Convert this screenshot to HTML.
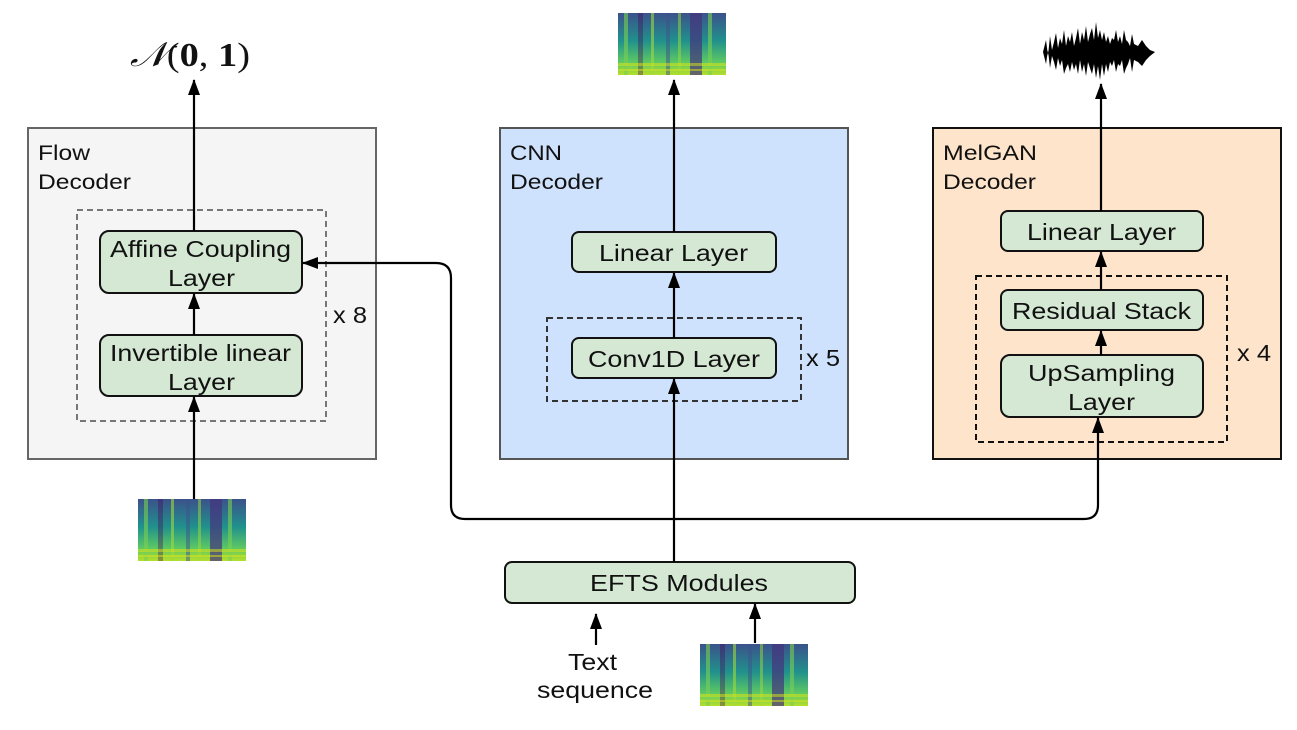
<!DOCTYPE html>
<html><head><meta charset="utf-8"><style>
html,body{margin:0;padding:0;background:#fff;}
svg{display:block;font-family:"Liberation Sans",sans-serif;}
</style></head><body>
<svg width="1297" height="730" viewBox="0 0 1297 730" xmlns="http://www.w3.org/2000/svg">
<defs>
<marker id="a" markerWidth="16" markerHeight="12" refX="15" refY="6" orient="auto" markerUnits="userSpaceOnUse">
<path d="M0,0 L16,6 L0,12 z" fill="#000"/></marker>
<linearGradient id="sg" x1="0" y1="0" x2="0" y2="1">
<stop offset="0" stop-color="#3b528b"/><stop offset="0.45" stop-color="#21918c"/><stop offset="0.8" stop-color="#5ec962"/><stop offset="1" stop-color="#b5de2b"/></linearGradient>
<g id="spec">
<rect width="108" height="62" fill="url(#sg)"/>
<rect x="6" y="0" width="4" height="62" fill="#7ad151" opacity=".6"/>
<rect x="20" y="0" width="5" height="62" fill="#440154" opacity=".35"/>
<rect x="33" y="0" width="3" height="62" fill="#a0da39" opacity=".6"/>
<rect x="48" y="0" width="4" height="62" fill="#3b528b" opacity=".5"/>
<rect x="60" y="0" width="3" height="62" fill="#a0da39" opacity=".5"/>
<rect x="72" y="0" width="12" height="62" fill="#46327e" opacity=".7"/>
<rect x="90" y="0" width="4" height="62" fill="#7ad151" opacity=".6"/>
<rect x="0" y="50" width="108" height="3" fill="#dde318" opacity=".5"/>
<rect x="0" y="56" width="108" height="2" fill="#dde318" opacity=".5"/>
</g>
</defs>
<rect x="28" y="128" width="348" height="331" fill="#f5f5f5" stroke="#666" stroke-width="2"/>
<rect x="500" y="128" width="348" height="331" fill="#cfe2fd" stroke="#555" stroke-width="2"/>
<rect x="933" y="128" width="348" height="331" fill="#fde4cb" stroke="#111" stroke-width="2"/>
<g font-size="21" fill="#111">
<text x="38" y="160" textLength="52" lengthAdjust="spacingAndGlyphs">Flow</text><text x="38" y="189" textLength="93" lengthAdjust="spacingAndGlyphs">Decoder</text>
<text x="510" y="160" textLength="52" lengthAdjust="spacingAndGlyphs">CNN</text><text x="510" y="189" textLength="93" lengthAdjust="spacingAndGlyphs">Decoder</text>
<text x="943" y="160" textLength="94" lengthAdjust="spacingAndGlyphs">MelGAN</text><text x="943" y="189" textLength="93" lengthAdjust="spacingAndGlyphs">Decoder</text>
</g>
<rect x="77" y="210" width="249" height="211" fill="none" stroke="#777" stroke-width="2" stroke-dasharray="6,4"/>
<rect x="547" y="318" width="254" height="83" fill="none" stroke="#333" stroke-width="2" stroke-dasharray="6,4"/>
<rect x="976" y="276" width="251" height="166" fill="none" stroke="#111" stroke-width="2" stroke-dasharray="6,4"/>
<g fill="#d5e8d4" stroke="#111" stroke-width="2">
<rect x="100" y="231" width="202" height="62" rx="9"/>
<rect x="100" y="335" width="202" height="61" rx="9"/>
<rect x="572" y="232" width="204" height="40" rx="7"/>
<rect x="572" y="338" width="204" height="40" rx="7"/>
<rect x="1001" y="211" width="202" height="40" rx="7"/>
<rect x="1001" y="290" width="202" height="40" rx="7"/>
<rect x="1001" y="355" width="202" height="62" rx="9"/>
<rect x="505" y="562" width="350" height="41" rx="7"/>
</g>
<g font-size="23" fill="#111">
<text x="110" y="257" textLength="181" lengthAdjust="spacingAndGlyphs">Affine Coupling</text><text x="168" y="286" textLength="67" lengthAdjust="spacingAndGlyphs">Layer</text>
<text x="110" y="361" textLength="181" lengthAdjust="spacingAndGlyphs">Invertible linear</text><text x="168" y="390" textLength="67" lengthAdjust="spacingAndGlyphs">Layer</text>
<text x="599" y="261" textLength="149" lengthAdjust="spacingAndGlyphs">Linear Layer</text>
<text x="588" y="367" textLength="172" lengthAdjust="spacingAndGlyphs">Conv1D Layer</text>
<text x="1027" y="240" textLength="149" lengthAdjust="spacingAndGlyphs">Linear Layer</text>
<text x="1012" y="319" textLength="179" lengthAdjust="spacingAndGlyphs">Residual Stack</text>
<text x="1028" y="381" textLength="147" lengthAdjust="spacingAndGlyphs">UpSampling</text><text x="1068" y="410" textLength="67" lengthAdjust="spacingAndGlyphs">Layer</text>
<text x="590" y="591" textLength="178" lengthAdjust="spacingAndGlyphs">EFTS Modules</text>
<text x="568" y="670" textLength="49" lengthAdjust="spacingAndGlyphs">Text</text><text x="537" y="698" textLength="116" lengthAdjust="spacingAndGlyphs">sequence</text>
<text x="333" y="323" textLength="34" lengthAdjust="spacingAndGlyphs">x 8</text><text x="806" y="366" textLength="34" lengthAdjust="spacingAndGlyphs">x 5</text><text x="1237" y="361" textLength="34" lengthAdjust="spacingAndGlyphs">x 4</text>
</g>
<text x="130" y="66" font-size="34" font-family="Liberation Serif,serif" fill="#111" textLength="120" lengthAdjust="spacingAndGlyphs"><tspan font-style="italic">𝒩</tspan>(<tspan font-weight="bold">0</tspan>, <tspan font-weight="bold">1</tspan>)</text>
<g stroke="#000" stroke-width="2.2" fill="none" marker-end="url(#a)">
<line x1="194" y1="231" x2="194" y2="80"/>
<line x1="194" y1="335" x2="194" y2="294"/>
<line x1="194" y1="499" x2="194" y2="397"/>
<line x1="674" y1="232" x2="674" y2="80"/>
<line x1="674" y1="338" x2="674" y2="273"/>
<line x1="674" y1="562" x2="674" y2="379"/>
<line x1="1101" y1="211" x2="1101" y2="84"/>
<line x1="1101" y1="290" x2="1101" y2="252"/>
<line x1="1101" y1="355" x2="1101" y2="331"/>
<line x1="596" y1="645" x2="596" y2="614"/>
<line x1="755" y1="643" x2="755" y2="604"/>
<path d="M1098,505 Q1098,519 1084,519 L465,519 Q451,519 451,505 L451,278 Q451,263 436,263 L303,263"/>
<path d="M1098,505 L1098,418"/>
</g>
<use href="#spec" x="618" y="13"/>
<use href="#spec" x="138" y="499"/>
<use href="#spec" x="700" y="644"/>
<path d="M1043,52 L1046,40 1048,56 1050,36 1052,50 1054,42 1056,33 1058,48 1060,38 1062,44 1064,30 1066,46 1068,36 1070,42 1072,32 1074,46 1076,38 1078,28 1080,44 1082,32 1084,40 1086,26 1088,42 1090,34 1092,28 1094,40 1096,22 1098,38 1100,30 1102,40 1104,32 1106,42 1108,36 1110,44 1112,38 1114,40 1116,30 1118,42 1120,36 1122,44 1124,30 1126,40 1128,42 1130,46 1132,34 1134,44 1138,46 1142,40 1146,46 1150,50 1155,52 1150,56 1146,60 1142,66 1138,62 1134,60 1132,72 1130,58 1128,64 1126,68 1124,74 1122,60 1120,66 1118,64 1116,72 1114,60 1112,66 1110,62 1108,72 1106,64 1104,76 1102,64 1100,80 1098,66 1096,78 1094,64 1092,74 1090,68 1088,62 1086,76 1084,64 1082,72 1080,60 1078,74 1076,64 1074,70 1072,62 1070,72 1068,64 1066,68 1064,74 1062,60 1060,66 1058,58 1056,70 1054,62 1052,56 1050,68 1048,50 1046,64 Z" fill="#000"/>
</svg>
</body></html>
